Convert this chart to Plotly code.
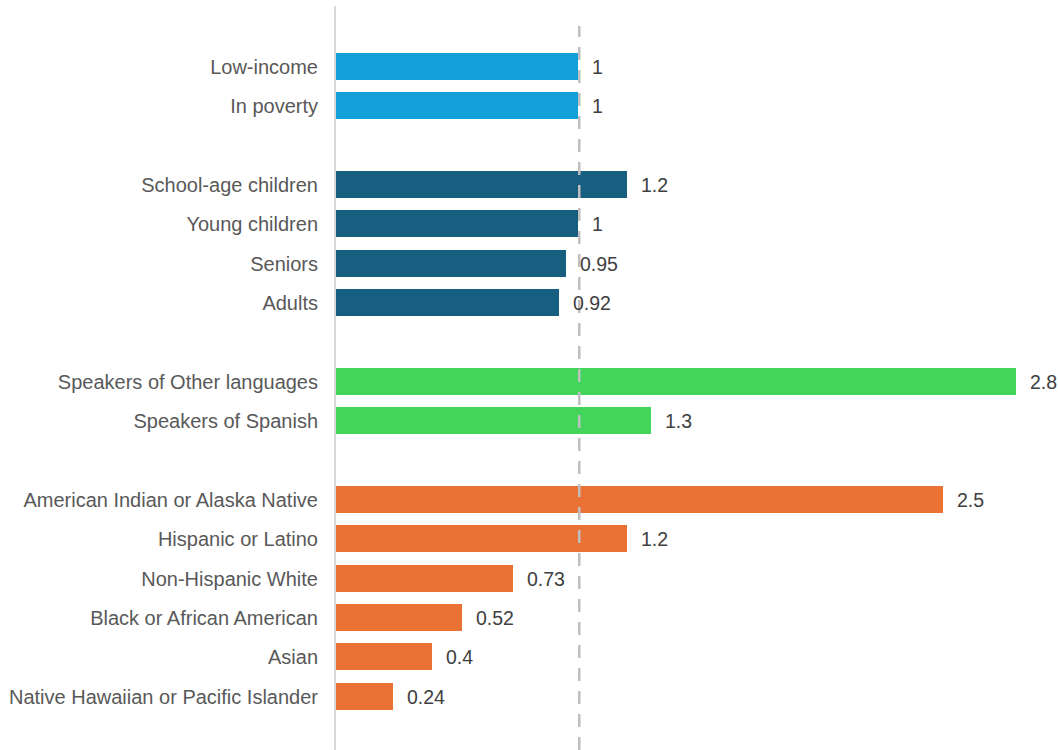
import plotly.graph_objects as go

# Ratio values by population group
income_labels = ["Low-income", "In poverty"]
income_values = [1, 1]

age_labels = ["School-age children", "Young children", "Seniors", "Adults"]
age_values = [1.2, 1, 0.95, 0.92]

language_labels = ["Speakers of Other languages", "Speakers of Spanish"]
language_values = [2.8, 1.3]

race_labels = [
    "American Indian or Alaska Native",
    "Hispanic or Latino",
    "Non-Hispanic White",
    "Black or African American",
    "Asian",
    "Native Hawaiian or Pacific Islander",
]
race_values = [2.5, 1.2, 0.73, 0.52, 0.4, 0.24]

reference_value = 1

groups = [
    (income_labels, income_values, "#139FD7"),
    (age_labels, age_values, "#175F80"),
    (language_labels, language_values, "#43D55B"),
    (race_labels, race_values, "#EA7234"),
]

fig = go.Figure()
tick_pos, tick_text = [], []
annotations = []
row = 0
for labels, values, color in groups:
    positions = list(range(row, row + len(labels)))
    fig.add_trace(go.Bar(
        x=values,
        y=positions,
        orientation="h",
        width=0.71,
        marker=dict(color=color, line=dict(color="white", width=1)),
        hoverinfo="skip",
        showlegend=False,
    ))
    for p, lab, v in zip(positions, labels, values):
        tick_pos.append(p)
        tick_text.append(lab)
        annotations.append(dict(
            x=v, y=p, xref="x", yref="y",
            text=f"{v:g}", showarrow=False,
            xanchor="left", yanchor="middle", xshift=11,
            font=dict(family="Liberation Sans, Arial, sans-serif", size=19.5, color="#404040"),
        ))
    row += len(labels) + 1  # blank row between groups

last_row = row - 2

fig.add_shape(
    type="line", xref="x", yref="paper",
    x0=reference_value, x1=reference_value, y0=0, y1=0.973,
    line=dict(color="#BFBFBF", width=2.5, dash="13px,10px"),
    layer="above",
)

fig.update_layout(
    width=1058,
    height=750,
    margin=dict(l=336, r=0, t=6, b=0),
    paper_bgcolor="white",
    plot_bgcolor="white",
    bargap=0,
    annotations=annotations,
    xaxis=dict(
        range=[0, 2.968],
        visible=False,
        showgrid=False,
        zeroline=False,
    ),
    yaxis=dict(
        range=[last_row + 1.35, -1.54],
        tickvals=tick_pos,
        ticktext=tick_text,
        ticks="",
        ticklabelstandoff=12,
        showgrid=False,
        zeroline=False,
        showline=True,
        linecolor="#D9D9D9",
        linewidth=2,
        tickfont=dict(family="Liberation Sans, Arial, sans-serif", size=20, color="#595959"),
    ),
)

fig.write_html("out.html")
